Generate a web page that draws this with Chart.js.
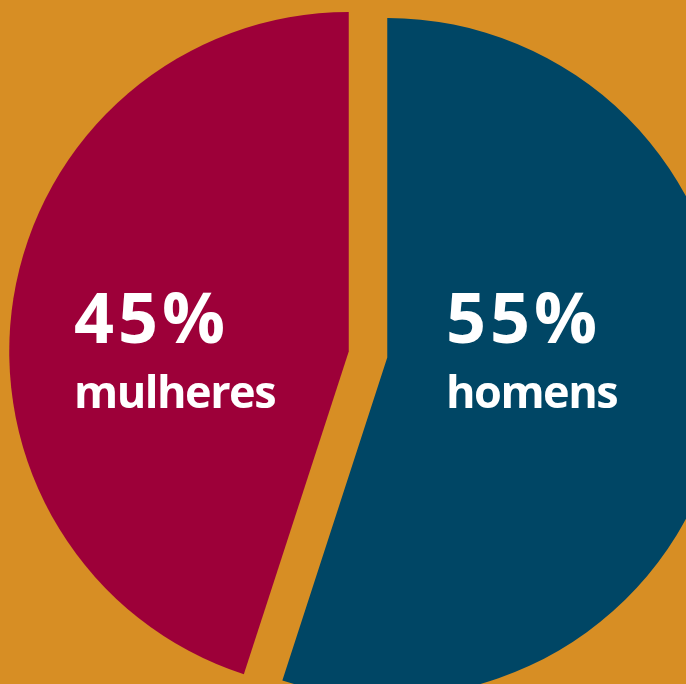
<!DOCTYPE html>
<html>
<head>
<meta charset="utf-8">
<script src="https://cdn.jsdelivr.net/npm/chart.js@4"></script>
<style>
    html, body { margin: 0; padding: 0; background: #D78E24; overflow: hidden; }
    #wrap { position: relative; width: 686px; height: 684px; }
</style>
</head>
<body>
<div id="wrap"><canvas id="chart"></canvas></div>
<script>
// Share of respondents by sex
const categories = ['homens', 'mulheres'];
const shares = [55, 45];
const sliceColors = ['#004665', '#9D0039'];
const explode = [19.5, 19.5]; // px each slice is pushed out along its bisector

// Chart.js' own offset trims the slice angles a little, which tilts the
// straight edges; push each arc out by translating the context instead.
const explodeSlices = {
    id: 'explodeSlices',
    beforeDatasetDraw(chart, args) {
        const ctx = chart.ctx;
        args.meta.data.forEach((arc, i) => {
            const mid = (arc.startAngle + arc.endAngle) / 2;
            ctx.save();
            ctx.translate(Math.cos(mid) * explode[i], Math.sin(mid) * explode[i]);
            arc.draw(ctx, chart.chartArea);
            ctx.restore();
        });
        return false;
    }
};

// Big percentage + word inside each slice
const sliceLabels = {
    id: 'sliceLabels',
    afterDatasetsDraw(chart) {
        const { ctx, chartArea } = chart;
        const arcs = chart.getDatasetMeta(0).data;
        if (!arcs.length) return;
        const cx = (chartArea.left + chartArea.right) / 2;
        const cy = (chartArea.top + chartArea.bottom) / 2;
        const r = arcs[0].outerRadius;
        // left edge of each text block, as a fraction of the radius
        const anchorX = [0.2297, -0.866];
        ctx.save();
        ctx.fillStyle = '#ffffff';
        ctx.textAlign = 'left';
        ctx.textBaseline = 'alphabetic';
        shares.forEach((v, i) => {
            const x = cx + anchorX[i] * r;
            ctx.font = 'bold 70px "Open Sans"';
            ctx.letterSpacing = '4px';
            ctx.fillText(v + '%', x, cy - 0.0339 * r);
            ctx.font = 'bold 45px "Open Sans"';
            ctx.letterSpacing = '-1.5px';
            ctx.fillText(categories[i], x, cy + 0.1576 * r);
        });
        ctx.restore();
    }
};

const ctx = document.getElementById('chart').getContext('2d');
const chart = new Chart(ctx, {
    type: 'pie',
    data: {
        labels: categories,
        datasets: [{
            data: shares,
            backgroundColor: sliceColors,
            borderWidth: 0,
            clip: false
        }]
    },
    options: {
        responsive: true,
        maintainAspectRatio: false,
        animation: false,
        events: [],
        radius: 339.5,
        layout: { padding: { left: 50, right: 0, top: 25, bottom: 0 } },
        plugins: {
            legend: { display: false },
            tooltip: { enabled: false }
        }
    },
    plugins: [explodeSlices, sliceLabels]
});
</script>
</body>
</html>
